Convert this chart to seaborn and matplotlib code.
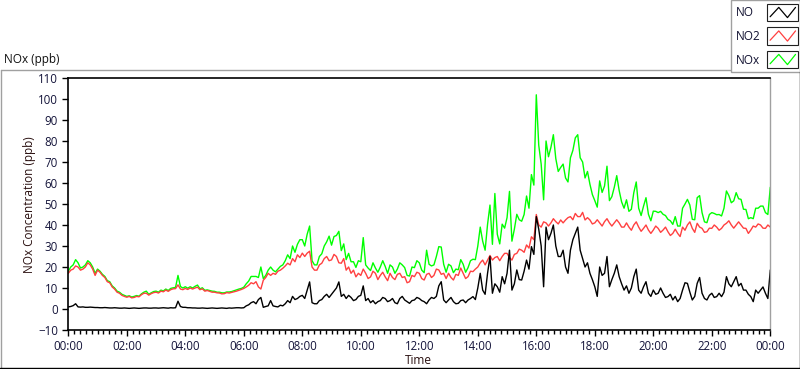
import numpy as np
import pandas as pd
import matplotlib
matplotlib.use("Agg")
import matplotlib.pyplot as plt
from matplotlib.lines import Line2D
from matplotlib.patches import Rectangle
from matplotlib.ticker import MultipleLocator
import seaborn as sns

# readings every 5 minutes, one row per hour, last value = 24:00
no = [
    1, 1.2, 1.6, 2.5, 1, 0.9, 1, 0.8, 0.8, 0.9, 0.8, 0.7,
    0.7, 0.6, 0.6, 0.7, 0.6, 0.5, 0.5, 0.6, 0.5, 0.4, 0.4, 0.5,
    0.4, 0.3, 0.4, 0.5, 0.4, 0.3, 0.4, 0.5, 0.5, 0.4, 0.4, 0.5,
    0.5, 0.4, 0.5, 0.6, 0.5, 0.4, 0.6, 0.5, 0.6, 3.7, 1.2, 0.8,
    0.8, 0.6, 0.6, 0.5, 0.5, 0.4, 0.4, 0.5, 0.4, 0.3, 0.4, 0.5,
    0.4, 0.3, 0.4, 0.5, 0.4, 0.3, 0.5, 0.4, 0.5, 0.6, 0.6, 0.5,
    0.6, 1.5, 2, 3, 3.5, 2.5, 4.5, 5.5, 0.8, 1.2, 1.5, 4,
    1.5, 1.2, 1, 1.8, 1.5, 2.5, 4, 3, 6, 4.5, 5, 6,
    6.5, 5, 9, 12.9, 3, 2.5, 2.5, 4, 4.5, 6, 7, 5.5,
    7, 8.5, 10, 12.9, 6, 7, 5, 6.5, 5.5, 4, 4.5, 6,
    6.5, 11, 4, 5, 3, 4, 2.5, 3.5, 4, 5.5, 5, 3.5,
    4, 5, 3, 2.5, 5, 6, 4.3, 3.5, 2.7, 4, 4.3, 5.5,
    5, 4, 3.5, 2.5, 4.3, 5.5, 5, 6, 11, 13, 4.3, 3,
    4.3, 5.5, 3.5, 2.5, 2.7, 4, 4.3, 3, 4.3, 5, 5.9, 4.5,
    10, 17, 9, 7, 17, 25, 7.5, 12, 10.6, 8, 15.4, 12,
    17, 28, 9, 12, 18.6, 14, 13.8, 18, 23.3, 19, 29.7, 26,
    44, 38, 30, 10.6, 39, 33, 36, 40, 30, 25, 25, 28,
    20, 17, 28, 33, 36, 39, 28, 24, 20, 22, 17, 14,
    10.6, 6, 20, 16, 17, 25, 10.6, 14, 17, 21, 15.4, 12,
    9, 11, 7.5, 10, 15.4, 19, 9, 7.5, 10.6, 13, 7.5, 6,
    9, 7, 7.5, 10, 7.5, 5.5, 5.9, 7, 4.3, 6, 3.5, 5,
    9, 12.5, 12.2, 8, 4.3, 6, 12.2, 15, 7.5, 5, 4.3, 6.5,
    7.5, 5.5, 5.9, 7.5, 5.9, 8, 15.4, 12, 10.6, 13, 15.4, 11,
    12.2, 9, 9, 7, 5.9, 3.5, 9, 7.5, 9, 10.5, 7.5, 5,
    18.6,
]

no2 = [
    17, 18.5, 19, 20.5, 20, 18.5, 19, 20, 22, 21, 19, 16,
    18.5, 17.5, 16, 15, 13, 12.5, 10.5, 9.5, 8, 7.5, 6.5, 6,
    5.6, 6, 5.3, 5.5, 6, 5.8, 6.8, 7.5, 7.5, 6.6, 7.3, 7.8,
    8, 7.6, 8.5, 8.2, 9, 8.4, 9.2, 9.6, 9.7, 11.5, 9.5, 9.2,
    9.8, 9.3, 10, 9.5, 10, 10.4, 9.2, 9.6, 8.5, 8.8, 8.4, 8,
    8, 7.7, 7.6, 7.2, 7.3, 7.8, 7.6, 7.9, 8.2, 8.5, 8.9, 9.3,
    9.8, 10.5, 11.3, 12.5, 12, 13, 10.5, 9.5, 13.7, 15, 17, 16,
    17, 16.5, 18, 18.5, 19.4, 20.5, 21.8, 21, 24, 22.5, 25.8, 24.5,
    26.6, 25, 26.6, 27.5, 20, 18.5, 18.5, 21, 21.8, 24, 25, 23,
    23.4, 26, 25, 22, 21.8, 24, 18.5, 20, 17, 18.5, 15.3, 17,
    16, 19, 17, 14.5, 15.3, 18, 17, 14, 16, 17.5, 15.3, 13.5,
    17, 15, 14, 16.5, 17, 15, 15.4, 12.5, 13, 16, 15.4, 17.5,
    17, 14.5, 13.8, 16.5, 17, 15, 16, 19, 18.6, 16.5, 17, 14.5,
    17, 15, 13.8, 16.5, 16, 19.5, 17, 14.5, 15.4, 18, 17.8, 19,
    20, 22, 23.3, 21, 23.3, 25.5, 23.3, 24.5, 25, 23, 25, 26.5,
    26.5, 24.5, 23.3, 26, 26.5, 28.5, 28, 27, 30.5, 29, 34.4, 33,
    45, 40, 39, 41.5, 41, 39.5, 41, 43, 41.6, 40.5, 42.4, 41,
    42.4, 43.5, 44, 42.5, 45.5, 44, 44, 46, 42.4, 43.5, 42.4, 40.5,
    41, 42.5, 41, 39.5, 41.6, 43, 41, 39.5, 41, 42.5, 41, 39,
    39, 41, 39, 37.5, 40, 41.5, 39, 37, 38.4, 40, 37.6, 36,
    37.6, 39.5, 38.4, 36.5, 37.6, 39, 36.8, 35, 36, 38, 36, 34.5,
    39, 37.5, 40, 41.5, 38.4, 36.5, 40.8, 39, 38.4, 36.5, 36.8, 38.5,
    38.4, 40, 39, 37.5, 38.4, 40, 40.8, 42, 40, 38.5, 40, 41.5,
    40, 38.5, 38.4, 36, 37.6, 39.5, 39, 40.5, 40, 38.5, 38.4, 40,
    39,
]

nox = [
    18, 20, 21, 23.5, 22, 19.5, 20, 21, 23, 22, 20, 17,
    19, 18, 16.5, 15.5, 13.5, 13, 11, 10, 8.5, 8, 7, 6.5,
    6, 6.3, 5.7, 6, 6.4, 6.1, 7.2, 8, 8.5, 7, 7.7, 8.3,
    8.5, 8, 9, 8.6, 9.5, 8.8, 9.8, 10.1, 10.3, 16, 10.7, 10,
    10.6, 9.9, 10.6, 10, 10.8, 11.4, 9.6, 10.1, 8.9, 9.1, 8.8, 8.5,
    8.4, 8, 8, 7.7, 7.7, 8.1, 8.1, 8.3, 8.7, 9.1, 9.5, 9.8,
    10.4, 12, 13.3, 15.5, 15.5, 15.5, 15, 20, 14.5, 16, 18.5, 20,
    18.5, 17.7, 19, 20.3, 21, 23, 25.8, 24, 30, 27, 30.8, 33,
    33, 30, 35.6, 39.5, 23, 21, 21, 25, 26.3, 30, 32, 34.7,
    30.4, 34.5, 35, 37, 27.8, 31, 23.5, 26.5, 22.5, 22.5, 19.8, 23,
    22.5, 34, 21, 19.5, 18.3, 22, 19.5, 17.5, 20, 23, 20.3, 17,
    21, 20, 17, 19, 22, 21, 19.7, 16, 15.7, 20, 19.7, 23,
    22, 18.5, 17.3, 28, 21.3, 20.5, 21, 25, 29.7, 29.5, 21.3, 17.5,
    21.3, 20.5, 17.3, 19, 18.7, 23.5, 21.3, 17.5, 19.7, 23, 23.7, 23.5,
    30, 39, 32.3, 28, 40.3, 49.5, 30.8, 55, 35.6, 31, 40.4, 38.5,
    43.5, 56, 32.3, 38, 45.1, 42.5, 41.8, 45, 53.8, 48, 64, 59,
    102, 78, 69, 52, 80, 72.5, 77, 83, 71.6, 65.5, 67.4, 69,
    62.4, 60.5, 72, 75.5, 81.5, 83, 72, 70, 62.4, 65.5, 59.4, 54.5,
    51.6, 48.5, 61, 55.5, 58.6, 68, 51.6, 53.5, 58, 63.5, 56.4, 51,
    48, 52, 46.5, 47.5, 55.4, 60.5, 48, 44.5, 49, 53, 45.1, 42,
    46.6, 46.5, 45.9, 46.5, 45.1, 44.5, 42.7, 42, 40.3, 44, 39.5, 39.5,
    48, 50, 52.2, 49.5, 42.7, 42.5, 53, 54, 45.9, 41.5, 41.1, 45,
    45.9, 45.5, 44.9, 45, 44.3, 48, 56.2, 54, 50.6, 51.5, 55.4, 52.5,
    52.2, 47.5, 47.4, 43, 43.5, 43, 48, 48, 49, 49, 45.9, 45,
    58,
]

series_names = ["NO", "NO2", "NOx"]
series_colors = {"NO": "#000000", "NO2": "#ff4040", "NOx": "#00ff00"}
tick_labels = ["00:00", "02:00", "04:00", "06:00", "08:00", "10:00", "12:00",
               "14:00", "16:00", "18:00", "20:00", "22:00", "00:00"]

hours = np.arange(len(no)) / 12.0
df = pd.concat([
    pd.DataFrame({"hours": hours, "ppb": vals, "series": name})
    for name, vals in zip(series_names, [no, no2, nox])
], ignore_index=True)

sns.set_style("white")
plt.rcParams["font.family"] = ["Open Sans", "DejaVu Sans"]

W, H = 800, 369
fig = plt.figure(figsize=(W / 100, H / 100), dpi=100)


def fx(x):
    return x / W


def fy(y):
    return 1 - y / H


ax = fig.add_axes([fx(68.3), fy(330), (770.3 - 68.3) / W, 252 / H])

# NOx underneath, NO on top
sns.lineplot(data=df, x="hours", y="ppb", hue="series",
             hue_order=["NOx", "NO2", "NO"], palette=series_colors,
             linewidth=1.0, legend=False, ax=ax, estimator=None)

ax.set_xlim(0, 24)
ax.set_ylim(-10, 110)
ax.set_xticks(np.arange(0, 25, 2))
ax.set_xticklabels(tick_labels)
ax.xaxis.set_minor_locator(MultipleLocator(0.2))
ax.set_yticks(np.arange(-10, 111, 10))
ax.set_xlabel("")
ax.set_ylabel("")

txt_col = "#14143a"
ax.tick_params(axis="both", which="major", direction="out", length=4.5, width=1,
               color="#000000", labelsize=8.3, labelcolor=txt_col, pad=3)
ax.tick_params(axis="x", which="minor", direction="out", length=3, width=1, color="#000000")
ax.tick_params(axis="x", which="both", bottom=True)
ax.tick_params(axis="y", which="both", left=True)

for side in ["left", "bottom", "top"]:
    ax.spines[side].set_color("#000000")
    ax.spines[side].set_linewidth(1.2)
ax.spines["right"].set_color("#a0a0a0")
ax.spines["right"].set_linewidth(1.0)

fig.text(fx(30), fy(205), "NOx Concentration (ppb)", rotation=90,
         ha="center", va="center", fontsize=8.5, color="#2a1010")
fig.text(fx(418), fy(361), "Time", ha="center", va="center", fontsize=8.5, color="#2a1010")
fig.text(fx(4), fy(59), "NOx (ppb)", ha="left", va="center", fontsize=8.5, color="#101010")

# panel border
fig.add_artist(Line2D([fx(0.5), fx(730)], [fy(69.5), fy(69.5)], color="#a0a0a0", lw=1))
fig.add_artist(Line2D([fx(0.5), fx(0.5)], [fy(69.5), fy(367.5)], color="#a0a0a0", lw=1))
fig.add_artist(Line2D([fx(0), fx(799.5)], [fy(367.5), fy(367.5)], color="#000000", lw=1))
fig.add_artist(Line2D([fx(799.5), fx(799.5)], [fy(72), fy(367.5)], color="#000000", lw=1))

# legend box
fig.add_artist(Rectangle((fx(730.5), fy(72)), (799.5 - 730.5) / W, 72 / H,
                         transform=fig.transFigure, facecolor="white",
                         edgecolor="#a0a0a0", lw=1))
zig_x = [0.1, 0.38, 0.66, 0.92]
zig_y = [0.25, 0.8, 0.2, 0.8]
sw_tops = [4, 27.5, 51]
for name, top in zip(series_names, sw_tops):
    fig.text(fx(736), fy(top + 9), name, ha="left", va="center", fontsize=8.5, color="#101030")
    fig.add_artist(Rectangle((fx(767), fy(top + 17)), 31 / W, 17 / H,
                             transform=fig.transFigure, facecolor="white",
                             edgecolor="#202020", lw=0.8))
    xs = [fx(767 + 31 * z) for z in zig_x]
    ys = [fy(top + 17 - 17 * z) for z in zig_y]
    fig.add_artist(Line2D(xs, ys, color=series_colors[name], lw=0.9))

fig.savefig("out.png", dpi=100)
